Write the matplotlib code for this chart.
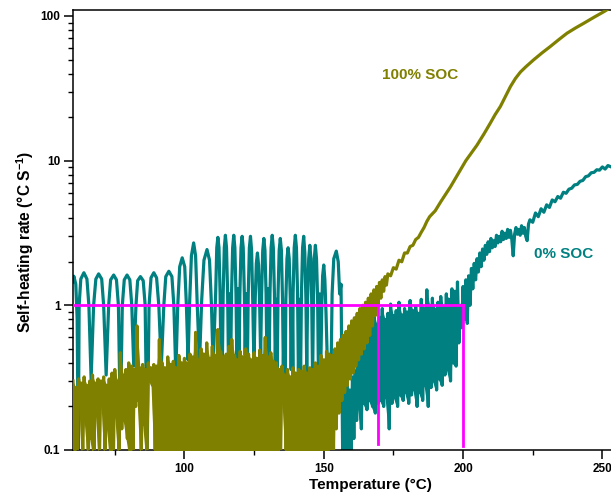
import numpy as np
import matplotlib
matplotlib.use("Agg")
import matplotlib.pyplot as plt
from matplotlib.ticker import FixedLocator, MultipleLocator, LogLocator, NullFormatter

plt.rcParams['font.family'] = ['Liberation Sans', 'DejaVu Sans']
plt.rcParams['font.weight'] = 'bold'
plt.rcParams['mathtext.fontset'] = 'custom'
plt.rcParams['mathtext.rm'] = 'Liberation Sans:bold'
plt.rcParams['mathtext.bf'] = 'Liberation Sans:bold'

TEAL = '#008080'
OLIVE = '#808000'
MAGENTA = '#FF00FF'

# ---- 0% SOC: oscillating part (60-162 C)
teal_osc_x = [
    60.0, 60.3, 61.0, 61.5, 61.9,
    62.2, 62.8, 63.9, 65.0, 65.7, 66.5,
    67.4, 68.2, 69.2, 70.3, 71.0, 71.9,
    72.8, 73.5, 74.6, 75.6, 76.3, 77.0,
    77.7, 78.4, 79.4, 80.4, 81.1, 81.8,
    82.6, 83.2, 84.2, 85.2, 85.9, 86.6,
    87.3, 88.0, 89.0, 90.0, 90.8, 91.7,
    92.6, 93.3, 94.4, 95.5, 96.2, 96.9,
    97.6, 98.3, 99.2, 100.1, 100.7, 101.3,
    101.9, 102.5, 103.3, 104.0, 104.6, 105.4,
    106.2, 107.0, 108.1, 109.0, 109.7, 110.3,
    111.2, 111.6, 112.0, 112.4, 112.8, 113.1, 113.35, 113.6,
    113.9, 114.3, 114.7, 115.1, 115.5, 115.8, 116.2, 116.6,
    116.9, 117.3, 117.7, 118.1, 118.5, 118.8, 119.2, 119.6,
    119.9, 120.3, 120.7, 121.1, 121.5, 121.8, 122.2, 122.6,
    122.9, 123.3, 123.7, 124.1, 124.5, 124.95,
    125.4, 125.8, 126.2, 126.6, 127.0, 127.35,
    127.7, 128.1, 128.5, 128.9, 129.3, 129.6, 130.0, 130.4,
    130.7, 131.1, 131.5, 131.9, 132.3, 132.6, 133.0, 133.3,
    133.6, 134.0, 134.4, 134.8, 135.2, 135.5, 135.85, 136.2,
    136.4, 136.8, 137.2, 137.6, 138.0, 138.3, 138.65, 138.9,
    139.0, 139.4, 139.8, 140.2, 140.6, 140.9, 141.3, 141.7,
    142.0, 142.4, 142.8, 143.2, 143.6, 143.9,
    144.2, 144.6, 145.0, 145.4, 145.7, 146.0,
    146.3, 146.6, 147.0, 147.4, 147.8, 148.1, 148.5, 148.9,
    149.3, 149.6, 150.0, 150.4, 150.8, 151.3,
    152.2, 153.0, 153.6, 154.5, 155.2, 155.7, 156.2, 156.8,
    157.3, 157.8, 158.3, 158.8, 159.3, 159.8, 160.3, 160.8, 161.3, 161.8]
teal_osc_y = [
    1.45, 1.59, 1.40, 0.80, 0.09,
    1.00, 1.52, 1.68, 1.52, 1.00, 0.31,
    1.00, 1.52, 1.65, 1.52, 1.00, 0.33,
    1.00, 1.50, 1.62, 1.50, 1.00, 0.15,
    1.00, 1.50, 1.62, 1.50, 1.00, 0.38,
    1.00, 1.48, 1.58, 1.48, 1.00, 0.09,
    1.00, 1.55, 1.68, 1.55, 1.00, 0.38,
    1.00, 1.58, 1.72, 1.58, 1.00, 0.34,
    1.00, 1.85, 2.13, 1.85, 1.00, 0.42,
    1.10, 2.20, 2.70, 2.20, 1.00, 0.40,
    1.10, 2.05, 2.43, 2.05, 1.00, 0.38,
    1.20, 2.50, 2.95, 2.50, 1.20, 0.40, 1.10, 0.38,
    1.20, 2.50, 3.05, 2.50, 1.20, 0.40, 1.20, 0.38,
    1.20, 2.50, 3.05, 2.50, 1.20, 0.42, 1.30, 0.40,
    1.20, 2.50, 3.00, 2.50, 1.20, 0.45, 1.20, 0.40,
    1.20, 2.50, 3.00, 2.40, 1.10, 0.38,
    1.10, 1.95, 2.30, 1.90, 1.00, 0.45,
    1.20, 2.40, 2.90, 2.40, 1.20, 0.40, 1.30, 0.37,
    1.20, 2.50, 3.05, 2.50, 1.20, 0.40, 1.10, 0.36,
    1.20, 2.40, 2.90, 2.40, 1.10, 0.36, 1.00, 0.34,
    1.10, 2.10, 2.50, 2.10, 1.10, 0.36, 1.20, 0.34,
    1.20, 2.50, 3.05, 2.50, 1.20, 0.33, 1.10, 0.34,
    1.20, 2.50, 3.00, 2.30, 1.10, 0.35,
    1.10, 2.10, 2.60, 2.10, 1.00, 0.30,
    1.10, 2.10, 2.60, 2.10, 1.10, 0.32, 1.20, 0.33,
    1.00, 1.60, 1.90, 1.50, 0.90, 0.40,
    0.09, 1.20, 2.10, 2.37, 2.00, 1.20, 1.40, 0.09,
    0.28, 0.09, 0.30, 0.09, 0.26, 0.09, 0.32, 0.12, 0.35, 0.16]

# ---- 0% SOC: noisy band 162-198 C (peaks on whole degrees, dips half way)
teal_band_top = [0.62, 0.75, 0.70, 0.85, 0.72, 0.78, 0.90, 0.74, 0.82, 0.95,
                 0.80, 0.88, 1.02, 0.85, 0.92, 1.05, 0.86, 0.95, 0.90, 1.08,
                 0.92, 0.98, 0.88, 1.10, 0.95, 1.28, 1.00, 1.12, 0.94, 1.05,
                 1.15, 0.98, 1.20, 1.10, 1.30, 1.25, 1.45]
teal_band_low = [0.20, 0.14, 0.21, 0.19, 0.22, 0.20, 0.18, 0.21, 0.22, 0.20,
                 0.23, 0.14, 0.21, 0.23, 0.20, 0.24, 0.22, 0.25, 0.21, 0.24,
                 0.26, 0.20, 0.25, 0.22, 0.28, 0.20, 0.27, 0.30, 0.26, 0.31,
                 0.28, 0.33, 0.36, 0.30, 0.40, 0.38, 0.55]

# ---- 0% SOC: runaway part
teal_rise_x = [199.0, 199.5, 200.0, 200.5, 201.0, 201.5, 202.0, 202.5, 203.0, 203.5,
               204.0, 204.5, 205.0, 205.5, 206.0, 206.5, 207.0, 207.5, 208.0, 208.5,
               209.0, 209.5, 210.0, 210.5, 211.0, 211.5, 212.0, 212.5, 213.0, 213.5,
               214.0, 214.5, 215.0, 215.5, 216.0, 216.5, 217.0, 217.5, 218.0, 218.5,
               219.0, 219.5, 220.0, 220.5, 221.0, 221.5, 222.0, 222.5, 223.0, 223.5,
               224.0, 225.0, 226.0, 227.0, 228.0, 229.0, 230.0, 231.0, 232.0, 233.0,
               234.0, 235.0, 236.0, 237.0, 238.0, 239.0, 240.0, 241.0, 242.0, 243.0,
               244.0, 245.0, 246.0, 247.0, 248.0, 249.0, 250.0, 251.0, 252.0, 253.5]
teal_rise_y = [1.00, 0.70, 1.35, 0.80, 1.50, 0.75, 1.60, 1.00, 1.80, 1.30,
               1.95, 1.50, 2.10, 1.70, 2.30, 1.85, 2.45, 2.05, 2.60, 2.25,
               2.75, 2.35, 2.90, 2.50, 2.80, 2.55, 3.05, 2.70, 3.00, 2.75,
               3.25, 2.85, 3.15, 2.90, 3.35, 2.95, 3.30, 2.85, 2.20, 3.10,
               3.45, 3.10, 3.35, 3.05, 3.55, 3.15, 3.45, 3.00, 2.80, 3.65,
               3.90, 3.75, 4.35, 4.10, 4.65, 4.40, 4.95, 4.75, 5.35, 5.20,
               5.65, 5.50, 6.05, 5.95, 6.35, 6.45, 6.80, 6.85, 7.20, 7.30,
               7.75, 7.85, 8.25, 8.30, 8.65, 8.60, 9.05, 8.75, 9.25, 9.00]

# ---- 100% SOC: noisy part 60-152 C (peaks on whole degrees, dips half way)
olive_noise_top = [0.30, 0.27, 0.31, 0.29, 0.32, 0.28, 0.30, 0.33, 0.29, 0.31,
                   0.30, 0.32, 0.28, 0.31, 0.34, 0.36, 0.30, 0.47, 0.33, 0.36,
                   0.40, 0.38, 0.36, 0.72, 0.37, 0.39, 0.36, 0.40, 0.37, 0.39,
                   0.38, 0.58, 0.40, 0.37, 0.44, 0.39, 0.41, 0.37, 0.45, 0.40,
                   0.43, 0.40, 0.46, 0.44, 0.65, 0.42, 0.50, 0.46, 0.55, 0.43,
                   0.52, 0.45, 0.68, 0.48, 0.44, 0.46, 0.52, 0.58, 0.45, 0.42,
                   0.48, 0.44, 0.50, 0.46, 0.42, 0.47, 0.43, 0.49, 0.45, 0.60,
                   0.44, 0.47, 0.41, 0.40, 0.36, 0.38, 0.33, 0.36, 0.32, 0.37,
                   0.34, 0.36, 0.35, 0.38, 0.34, 0.37, 0.36, 0.40, 0.38, 0.45,
                   0.42, 0.48, 0.46]
olive_noise_low = [0.09, 0.09, 0.22, 0.09, 0.16, 0.09, 0.12, 0.09, 0.18, 0.09,
                   0.22, 0.09, 0.14, 0.09, 0.09, 0.17, 0.09, 0.14, 0.16, 0.12,
                   0.09, 0.09, 0.20, 0.22, 0.09, 0.15, 0.09, 0.30, 0.28, 0.09,
                   0.09, 0.09, 0.09, 0.09, 0.09, 0.09, 0.09, 0.09, 0.09, 0.09,
                   0.09, 0.09, 0.09, 0.09, 0.09, 0.09, 0.09, 0.09, 0.09, 0.09,
                   0.09, 0.09, 0.09, 0.09, 0.09, 0.09, 0.09, 0.09, 0.09, 0.09,
                   0.09, 0.09, 0.09, 0.09, 0.09, 0.09, 0.09, 0.09, 0.09, 0.09,
                   0.09, 0.09, 0.09, 0.09, 0.09, 0.22, 0.09, 0.09, 0.09, 0.09,
                   0.09, 0.09, 0.09, 0.09, 0.09, 0.09, 0.09, 0.09, 0.09, 0.09,
                   0.09, 0.09, 0.09]

# ---- 100% SOC: runaway part
olive_rise_x = [153.0, 153.5, 154.0, 154.5, 155.0, 155.5, 156.0, 156.5, 157.0, 157.5,
                158.0, 158.5, 159.0, 159.5, 160.0, 160.5, 161.0, 161.5, 162.0, 162.5,
                163.0, 163.5, 164.0, 164.5, 165.0, 165.5, 166.0, 166.5, 167.0, 167.5,
                168.0, 168.5, 169.0, 169.5, 170.0, 170.5, 171.0, 171.5, 172.0, 172.5,
                173.0, 174.0, 175.0, 176.0, 177.0, 178.0, 179.0, 180.0, 181.0, 182.0,
                183.0, 184.0, 185.0, 186.0, 187.0, 188.0, 190.0, 192.0, 194.0, 195.5,
                197.0, 199.0, 201.0, 203.0, 205.0, 207.5, 209.8, 211.5, 213.4, 215.2,
                217.0, 218.8, 220.6, 222.5, 225.3, 228.3, 231.3, 234.3, 237.3, 240.3,
                243.3, 247.0, 250.5, 253.5]
olive_rise_y = [0.45, 0.10, 0.50, 0.14, 0.55, 0.18, 0.58, 0.22, 0.62, 0.25,
                0.66, 0.28, 0.72, 0.31, 0.78, 0.34, 0.82, 0.38, 0.88, 0.42,
                0.95, 0.46, 1.00, 0.50, 1.05, 0.55, 1.12, 0.62, 1.20, 0.72,
                1.28, 0.85, 1.35, 1.00, 1.44, 1.12, 1.50, 1.25, 1.58, 1.38,
                1.65, 1.60, 1.82, 1.78, 2.05, 2.00, 2.30, 2.30, 2.55, 2.60,
                2.85, 2.95, 3.20, 3.45, 3.80, 4.10, 4.50, 5.20, 5.95, 6.60,
                7.40, 8.60, 10.0, 11.3, 12.8, 15.3, 18.2, 20.8, 23.7, 27.8,
                32.5, 37.0, 41.0, 44.5, 49.7, 55.5, 61.5, 68.5, 76.0, 82.5,
                89.0, 98.0, 107.0, 116.0]

# onset markers
onset_T = [169.5, 200.0]
onset_rate = 1.0
onset_floor = [0.11, 0.106]
x_start = 60.0


def zigzag(x0, tops, lows):
    # interleave peak / dip readings on a 1 degree grid
    xs, ys = [], []
    for i, (t, l) in enumerate(zip(tops, lows)):
        xs += [x0 + i, x0 + i + 0.5]
        ys += [t, l]
    return xs, ys


band_T = np.arange(162.0, 162.0 + len(teal_band_top))
noise_T = np.arange(60.0, 60.0 + len(olive_noise_top))

bx, by = zigzag(162.0, teal_band_top, teal_band_low)
teal_x = teal_osc_x + bx + teal_rise_x
teal_y = teal_osc_y + by + teal_rise_y

ox, oy = zigzag(60.0, olive_noise_top, olive_noise_low)
olive_x = ox + olive_rise_x
olive_y = oy + olive_rise_y

fig = plt.figure(figsize=(6.11, 5.01), dpi=100)
ax = fig.add_axes([73 / 611, 51 / 501, 538 / 611, 440 / 501])

ax.plot(teal_x, teal_y, color=TEAL, lw=2.3, solid_joinstyle='round', zorder=2)
ax.fill_between(band_T, teal_band_low, teal_band_top, color=TEAL, lw=0, zorder=2)
ax.plot(olive_x, olive_y, color=OLIVE, lw=2.3, solid_joinstyle='round', zorder=3)
ax.fill_between(noise_T, olive_noise_low, olive_noise_top, color=OLIVE, lw=0, zorder=3)

ax.plot([x_start, onset_T[1]], [onset_rate, onset_rate], color=MAGENTA, lw=2, zorder=4)
for t, f in zip(onset_T, onset_floor):
    ax.plot([t, t], [f, onset_rate], color=MAGENTA, lw=2, zorder=4)

ax.set_yscale('log')
ax.set_xlim(60, 253.1)
ax.set_ylim(0.1, 110)

ax.xaxis.set_major_locator(MultipleLocator(50))
ax.xaxis.set_minor_locator(MultipleLocator(25))
ax.yaxis.set_major_locator(FixedLocator([0.1, 1, 10, 100]))
ax.yaxis.set_minor_locator(LogLocator(base=10, subs=np.arange(2, 10)))
ax.yaxis.set_minor_formatter(NullFormatter())
ax.set_yticklabels(['0.1', '1', '10', '100'])

ax.tick_params(which='major', direction='out', length=6.5, width=1.1, labelsize=8.5, pad=2.5)
ax.tick_params(which='minor', direction='out', length=3.5, width=1.0)
for lab in ax.get_xticklabels() + ax.get_yticklabels():
    lab.set_fontweight('bold')

ax.spines['right'].set_visible(False)
for s in ['left', 'bottom', 'top']:
    ax.spines[s].set_linewidth(1.1)

ax.set_xlabel('Temperature (°C)', fontsize=11, fontweight='bold', va='center')
ax.xaxis.set_label_coords(0.552, -0.0795)
ax.set_ylabel('Self-heating rate (°C S$^{-1}$)', fontsize=11.2, fontweight='bold', va='center')
ax.yaxis.set_label_coords(-0.089, 0.473)

ax.text(184.7, 39.2, '100% SOC', color=OLIVE, fontsize=11, fontweight='bold',
        ha='center', va='center')
ax.text(236.0, 2.25, '0% SOC', color=TEAL, fontsize=11, fontweight='bold',
        ha='center', va='center')

fig.savefig('out.png', dpi=100)
